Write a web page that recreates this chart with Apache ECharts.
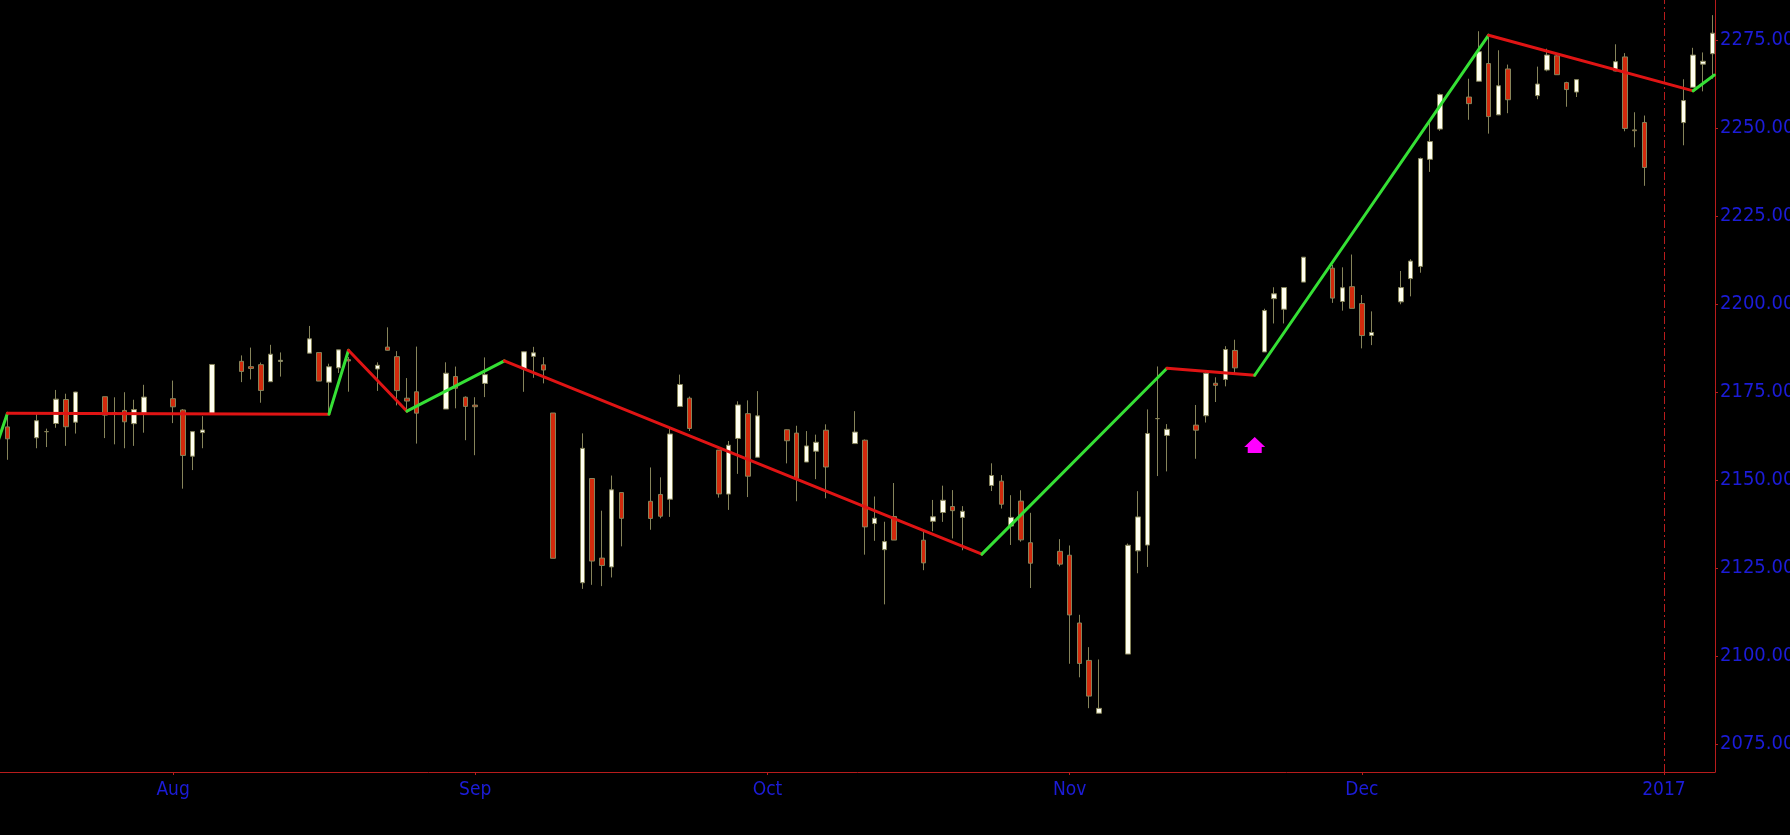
<!DOCTYPE html>
<html>
<head>
<meta charset="utf-8">
<script src="https://cdn.jsdelivr.net/npm/echarts@6.0.0/dist/echarts.min.js"></script>
<style>
  html, body { margin: 0; padding: 0; background: #000; }
  #chart { width: 1790px; height: 835px; }
</style>
</head>
<body>
<div id="chart"></div>
<script>
// ---------- DATA ----------
const dates = [
  '2016-07-14','2016-07-15',
  '2016-07-18','2016-07-19','2016-07-20','2016-07-21','2016-07-22',
  '2016-07-25','2016-07-26','2016-07-27','2016-07-28','2016-07-29',
  '2016-08-01','2016-08-02','2016-08-03','2016-08-04','2016-08-05',
  '2016-08-08','2016-08-09','2016-08-10','2016-08-11','2016-08-12',
  '2016-08-15','2016-08-16','2016-08-17','2016-08-18','2016-08-19',
  '2016-08-22','2016-08-23','2016-08-24','2016-08-25','2016-08-26',
  '2016-08-29','2016-08-30','2016-08-31','2016-09-01','2016-09-02',
  '2016-09-06','2016-09-07','2016-09-08','2016-09-09',
  '2016-09-12','2016-09-13','2016-09-14','2016-09-15','2016-09-16',
  '2016-09-19','2016-09-20','2016-09-21','2016-09-22','2016-09-23',
  '2016-09-26','2016-09-27','2016-09-28','2016-09-29','2016-09-30',
  '2016-10-03','2016-10-04','2016-10-05','2016-10-06','2016-10-07',
  '2016-10-10','2016-10-11','2016-10-12','2016-10-13','2016-10-14',
  '2016-10-17','2016-10-18','2016-10-19','2016-10-20','2016-10-21',
  '2016-10-24','2016-10-25','2016-10-26','2016-10-27','2016-10-28',
  '2016-10-31','2016-11-01','2016-11-02','2016-11-03','2016-11-04',
  '2016-11-07','2016-11-08','2016-11-09','2016-11-10','2016-11-11',
  '2016-11-14','2016-11-15','2016-11-16','2016-11-17','2016-11-18',
  '2016-11-21','2016-11-22','2016-11-23','2016-11-25',
  '2016-11-28','2016-11-29','2016-11-30','2016-12-01','2016-12-02',
  '2016-12-05','2016-12-06','2016-12-07','2016-12-08','2016-12-09',
  '2016-12-12','2016-12-13','2016-12-14','2016-12-15','2016-12-16',
  '2016-12-19','2016-12-20','2016-12-21','2016-12-22','2016-12-23',
  '2016-12-27','2016-12-28','2016-12-29','2016-12-30',
  '2017-01-03','2017-01-04','2017-01-05','2017-01-06'
];
const opens = [
  2157.88,2165.13,
  2162.04,2163.79,2166.10,2172.91,2166.47,
  2173.71,2168.97,2169.81,2166.05,2168.83,
  2173.15,2169.94,2156.81,2163.51,2168.79,
  2183.76,2182.24,2182.81,2177.97,2183.74,
  2186.08,2186.24,2177.84,2181.90,2184.24,
  2181.58,2187.81,2185.09,2173.29,2175.10,
  2170.19,2179.45,2173.56,2171.33,2177.49,
  2181.61,2185.17,2182.76,2169.08,
  2120.86,2150.47,2127.86,2125.36,2146.48,
  2143.99,2145.94,2144.58,2170.94,2173.29,
  2158.54,2146.04,2161.85,2168.90,2156.51,
  2164.33,2163.37,2155.15,2158.22,2164.19,
  2160.39,2161.35,2137.67,2130.26,2139.68,
  2132.95,2138.31,2140.81,2142.51,2139.43,
  2148.50,2149.72,2136.97,2144.06,2132.23,
  2129.78,2128.68,2109.43,2098.80,2083.79,
  2100.59,2129.92,2131.56,2167.49,2162.71,
  2165.64,2168.29,2177.53,2178.61,2186.85,
  2186.43,2201.56,2198.55,2206.27,
  2210.21,2200.76,2204.97,2200.17,2191.12,
  2200.65,2207.26,2210.72,2241.13,2249.73,
  2258.83,2263.32,2268.35,2253.77,2266.81,
  2259.24,2266.50,2270.54,2262.93,2260.25,
  2266.23,2270.23,2249.50,2251.61,
  2251.57,2261.60,2268.18,2271.14
];
const highs = [
  2168.99,2169.05,
  2168.99,2164.63,2175.63,2174.56,2175.11,
  2173.71,2173.54,2174.98,2172.85,2177.09,
  2178.29,2170.20,2163.79,2168.19,2182.87,
  2185.44,2187.66,2183.41,2188.45,2186.28,
  2193.81,2186.24,2183.08,2187.03,2185.00,
  2183.47,2193.42,2186.66,2179.00,2187.94,
  2183.48,2182.27,2173.79,2173.56,2184.87,
  2186.57,2187.87,2184.94,2169.08,
  2163.30,2150.47,2141.33,2151.31,2146.48,
  2153.61,2150.80,2165.11,2179.99,2173.75,
  2158.54,2161.13,2172.40,2172.67,2175.30,
  2164.41,2165.46,2163.95,2162.93,2165.86,
  2169.60,2161.56,2145.36,2138.19,2149.19,
  2135.61,2144.38,2148.44,2147.18,2142.63,
  2154.79,2151.44,2145.73,2147.13,2140.72,
  2133.25,2131.45,2111.76,2102.56,2099.07,
  2132.00,2146.87,2170.10,2182.30,2165.92,
  2171.36,2180.84,2179.22,2188.06,2189.89,
  2198.70,2204.80,2204.72,2213.35,
  2211.14,2210.46,2214.10,2202.60,2197.95,
  2209.42,2212.78,2241.63,2251.69,2259.80,
  2264.03,2277.53,2276.20,2272.12,2268.05,
  2267.47,2272.56,2271.23,2263.18,2263.79,
  2273.82,2271.31,2254.51,2253.58,
  2263.88,2272.82,2271.50,2282.10
];
const lows = [
  2157.88,2155.79,
  2159.07,2159.40,2164.89,2159.75,2163.24,
  2161.95,2160.18,2159.07,2159.74,2163.49,
  2166.21,2147.58,2152.87,2159.07,2168.79,
  2177.85,2178.61,2172.00,2177.97,2179.42,
  2186.08,2178.14,2168.50,2180.46,2175.13,
  2175.35,2186.80,2171.25,2169.74,2160.39,
  2170.19,2170.41,2161.35,2157.09,2173.59,
  2175.10,2179.07,2177.49,2127.81,
  2119.12,2120.27,2119.90,2122.36,2131.20,
  2135.91,2139.17,2139.57,2170.94,2163.97,
  2145.04,2141.55,2151.79,2145.20,2156.51,
  2154.77,2144.01,2155.15,2150.28,2144.85,
  2160.39,2128.84,2132.77,2114.72,2132.98,
  2124.43,2135.49,2138.15,2133.44,2130.09,
  2146.91,2141.93,2131.59,2132.52,2119.36,
  2125.53,2097.85,2094.00,2085.23,2083.79,
  2100.59,2123.56,2125.35,2151.17,2152.49,
  2156.08,2166.38,2172.20,2176.65,2180.38,
  2186.43,2194.51,2194.51,2206.27,
  2200.36,2198.15,2198.81,2187.44,2188.37,
  2199.97,2202.21,2208.93,2237.57,2249.23,
  2252.37,2263.32,2248.44,2253.77,2254.24,
  2258.21,2266.14,2265.15,2256.08,2258.84,
  2266.15,2249.11,2244.56,2233.62,
  2245.13,2261.60,2260.45,2264.06
];
const closes = [
  2163.75,2161.74,
  2166.89,2163.78,2173.02,2165.17,2175.03,
  2168.48,2169.18,2166.58,2170.06,2173.60,
  2170.84,2157.03,2163.79,2164.25,2182.87,
  2180.89,2181.74,2175.49,2185.79,2184.05,
  2190.15,2178.15,2182.22,2187.02,2183.87,
  2182.64,2186.90,2175.44,2172.47,2169.04,
  2180.38,2176.12,2170.95,2170.86,2179.98,
  2186.48,2186.16,2181.30,2127.81,
  2159.04,2127.02,2125.77,2147.26,2139.16,
  2139.12,2139.76,2163.12,2177.18,2164.69,
  2146.10,2159.93,2171.37,2151.13,2168.27,
  2161.20,2150.49,2159.73,2160.77,2153.74,
  2163.66,2136.73,2139.18,2132.55,2132.98,
  2126.50,2139.60,2144.29,2141.34,2141.16,
  2151.33,2143.16,2139.43,2133.04,2126.41,
  2126.15,2111.72,2097.94,2088.66,2085.18,
  2131.52,2139.56,2163.26,2167.48,2164.45,
  2164.20,2180.39,2176.94,2187.12,2181.90,
  2198.18,2202.94,2204.72,2213.35,
  2201.72,2204.66,2198.81,2191.08,2191.95,
  2204.71,2212.23,2241.35,2246.19,2259.53,
  2256.96,2271.72,2253.28,2262.03,2258.07,
  2262.53,2270.76,2265.18,2260.96,2263.79,
  2268.88,2249.92,2249.26,2238.83,
  2257.83,2270.75,2269.00,2276.98
];

// zigzag pivots
const zigDates = [
  '2016-07-14','2016-07-15','2016-08-17','2016-08-19','2016-08-25',
  '2016-09-04','2016-10-23','2016-11-11','2016-11-20','2016-12-14',
  '2017-01-04','2017-01-06 04:00:00'
];
const zigValues = [
  2160.8, 2169.0, 2168.75, 2186.9, 2169.6,
  2183.9, 2129.0, 2181.8, 2179.8, 2276.4,
  2260.6, 2265.1
];

// signal arrow
const arrowDate = '2016-11-20';
const arrowValue = 2160.0;

// year divider
const yearLineDate = '2017-01-01';

// axis ticks / labels
const xTickDates = ['2016-08-01','2016-09-01','2016-10-01','2016-11-01','2016-12-01','2017-01-01'];
const xTickLabels = ['Aug','Sep','Oct','Nov','Dec','2017'];
const yTicks = [2075, 2100, 2125, 2150, 2175, 2200, 2225, 2250, 2275];

// axis range
const xMinDate = '2016-07-14 05:45:00';
const xMaxDate = '2017-01-06 05:40:00';
const yMin = 2067.1;
const yMax = 2286.4;

// ---------- CHART ----------
const ts = s => echarts.time.parse(s).getTime();

const candleData = dates.map((d, i) => [ts(d), opens[i], closes[i], lows[i], highs[i]]);
const xTickValues = xTickDates.map(ts);

const AXIS_RED = '#b81c1c';
const LABEL_BLUE = '#1c1cd8';
const FONT = "'DejaVu Sans Condensed', 'DejaVu Sans', sans-serif";

const zigSeries = [];
for (let i = 0; i < zigDates.length - 1; i++) {
  const up = zigValues[i + 1] >= zigValues[i];
  zigSeries.push({
    type: 'line',
    data: [[ts(zigDates[i]), zigValues[i]], [ts(zigDates[i + 1]), zigValues[i + 1]]],
    symbol: 'none',
    clip: true,
    silent: true,
    z: 5,
    lineStyle: { color: up ? '#35e035' : '#e01414', width: 3, cap: 'round', join: 'round' }
  });
}

const option = {
  backgroundColor: '#000000',
  animation: false,
  grid: {
    left: 0, right: 75, top: 0, bottom: 63,
    containLabel: false,
    outerBoundsMode: 'none'
  },
  xAxis: {
    type: 'value',
    min: ts(xMinDate),
    max: ts(xMaxDate),
    axisLine: { show: true, onZero: false, lineStyle: { color: AXIS_RED, width: 1 } },
    axisTick: { show: true, length: 3, customValues: xTickValues, lineStyle: { color: AXIS_RED } },
    axisLabel: {
      customValues: xTickValues,
      formatter: v => {
        const idx = xTickValues.indexOf(+v);
        return idx >= 0 ? xTickLabels[idx] : '';
      },
      color: LABEL_BLUE,
      fontSize: 19,
      fontFamily: FONT,
      margin: 9
    },
    splitLine: { show: false }
  },
  yAxis: {
    type: 'value',
    position: 'right',
    min: yMin,
    max: yMax,
    scale: true,
    axisLine: { show: true, onZero: false, lineStyle: { color: AXIS_RED, width: 1 } },
    axisTick: { show: true, length: 3, customValues: yTicks, lineStyle: { color: AXIS_RED } },
    axisLabel: {
      customValues: yTicks,
      formatter: v => Number(v).toFixed(2),
      color: LABEL_BLUE,
      fontSize: 20,
      fontFamily: FONT,
      margin: 5
    },
    splitLine: { show: false }
  },
  series: [
    {
      type: 'candlestick',
      data: candleData,
      barWidth: 5,
      clip: true,
      z: 3,
      itemStyle: {
        color: '#fffff0',
        color0: '#d22a0c',
        borderColor: '#86845a',
        borderColor0: '#86845a',
        borderColorDoji: '#86845a',
        borderWidth: 1
      },
      markLine: {
        silent: true,
        symbol: ['none', 'none'],
        label: { show: false },
        lineStyle: { color: AXIS_RED, width: 1, type: [8, 3, 2, 3] },
        data: [{ xAxis: ts(yearLineDate) }]
      }
    },
    ...zigSeries,
    {
      type: 'scatter',
      data: [[ts(arrowDate), arrowValue]],
      symbol: 'path://M10.5,0 L21,10 L17.5,10 L17.5,16 L3.5,16 L3.5,10 L0,10 Z',
      symbolSize: [21, 16],
      itemStyle: { color: '#ff00ff', opacity: 1 },
      silent: true,
      z: 6
    }
  ]
};

const chart = echarts.init(document.getElementById('chart'), null, { renderer: 'canvas' });
chart.setOption(option);
</script>
</body>
</html>
